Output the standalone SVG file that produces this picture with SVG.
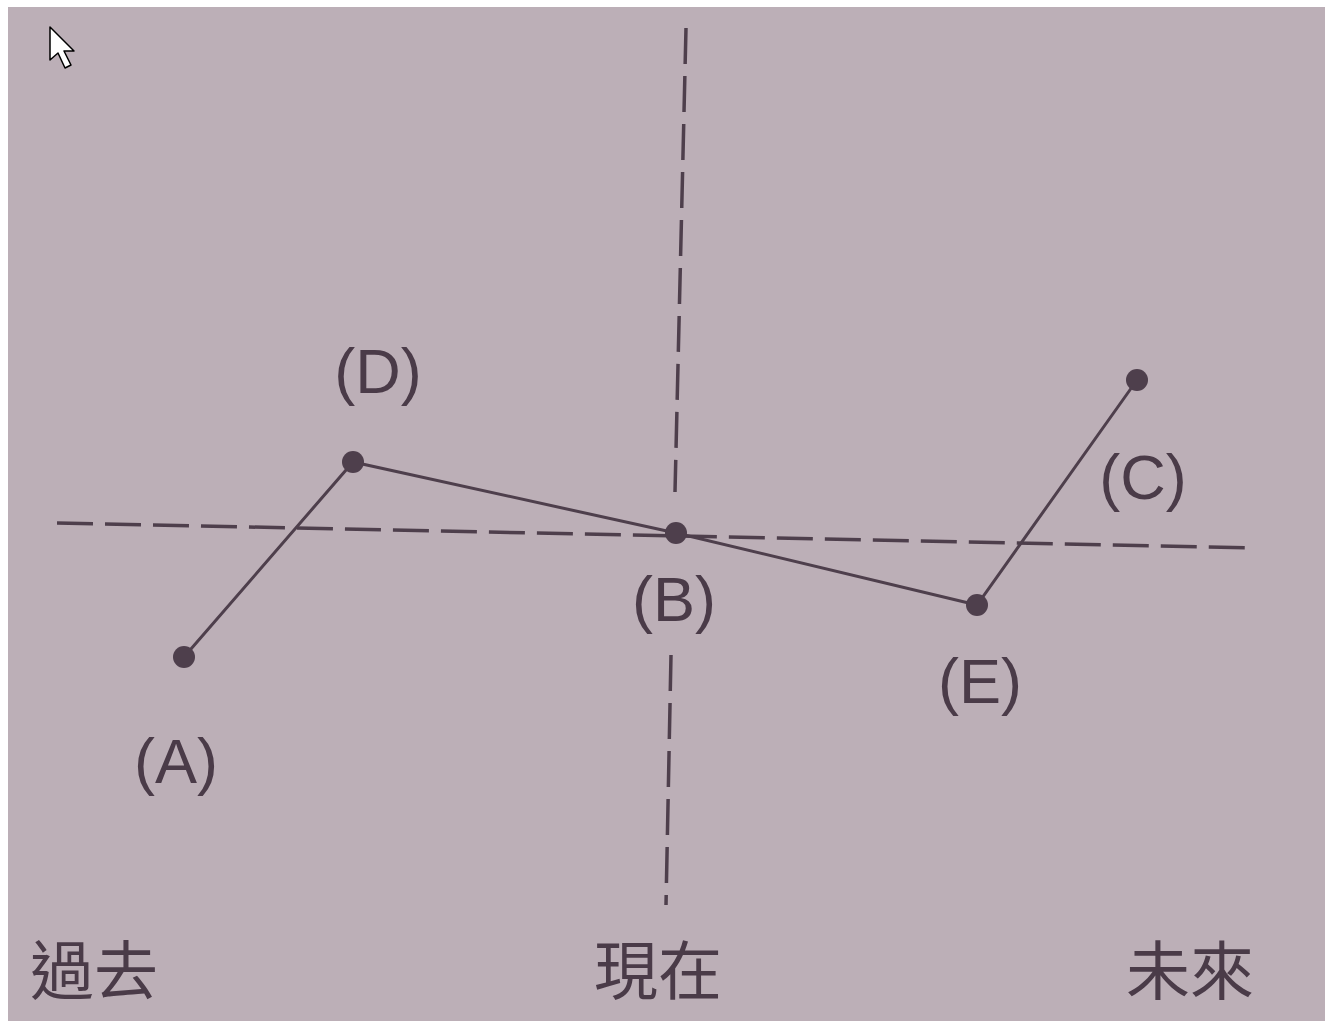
<svg xmlns="http://www.w3.org/2000/svg" width="1325" height="1021" viewBox="0 0 1325 1021">
<style>
.axis{stroke:#4e3f4c;stroke-width:3.5;fill:none;stroke-dasharray:36 12}
.conn{stroke:#4e3f4c;stroke-width:3;fill:none}
.dot{fill:#4e3f4c}
.lbl{font-family:"Liberation Sans","Noto Sans",sans-serif;font-size:63px;fill:#4a3b48;text-anchor:middle}
.cjk{font-family:"Noto Sans CJK TC","Noto Sans CJK JP",sans-serif;font-size:64px;fill:#4a3b48;font-weight:400}
</style>
<rect x="0" y="0" width="1325" height="1021" fill="#ffffff"/>
<rect x="8" y="7" width="1317" height="1014" fill="#bcafb7"/>
<g id="cursor">
<polygon points="50,27 50,60 58,53 65,68 71,65 64,51 74,51" fill="#ffffff" stroke="#000000" stroke-width="1.5" stroke-linejoin="round"/>
</g>
<g id="axes">
<line class="axis" x1="57" y1="523" x2="1256" y2="548"/>
<line class="axis" x1="686" y1="28" x2="675" y2="492"/>
<line class="axis" x1="671" y1="655" x2="666" y2="905"/>
</g>
<g id="connectors">
<polyline class="conn" points="184,657 353,462 676,533 977,605 1137,380"/>
</g>
<g id="node-A"><circle class="dot" cx="184" cy="657" r="11"/><text class="lbl" x="176" y="783">(A)</text></g>
<g id="node-D"><circle class="dot" cx="353" cy="462" r="11"/><text class="lbl" x="378" y="393">(D)</text></g>
<g id="node-B"><circle class="dot" cx="676" cy="533" r="11"/><text class="lbl" x="674" y="621">(B)</text></g>
<g id="node-E"><circle class="dot" cx="977" cy="605" r="11"/><text class="lbl" x="980" y="703">(E)</text></g>
<g id="node-C"><circle class="dot" cx="1137" cy="380" r="11"/><text class="lbl" x="1143" y="499">(C)</text></g>
<g id="timeline-labels">
<text class="cjk" x="30" y="994">過去</text>
<text class="cjk" x="594" y="994">現在</text>
<text class="cjk" x="1126" y="994">未來</text>
</g>
</svg>
